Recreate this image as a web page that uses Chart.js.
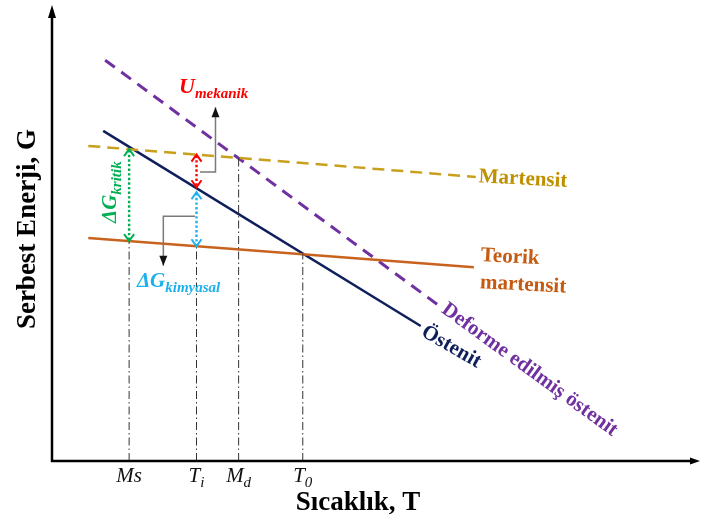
<!DOCTYPE html>
<html>
<head>
<meta charset="utf-8">
<title>Serbest Enerji - Sıcaklık</title>
<script src="https://cdn.jsdelivr.net/npm/chart.js@4/dist/chart.umd.min.js"></script>
<style>
  html, body { margin: 0; padding: 0; background: #ffffff; }
  #wrap { width: 702px; height: 523px; }
</style>
</head>
<body>
<div id="wrap"><canvas id="chart" width="702" height="523"></canvas></div>
<script>
// Free-energy curves (schematic units: temperature 0-100, energy 0-100)
const austenite = [{ x: 7.9, y: 72.4 }, { x: 56.9, y: 29.6 }];
const martensite = [{ x: 5.6, y: 69.1 }, { x: 65.4, y: 62.3 }];
const theoreticalMartensite = [{ x: 5.6, y: 48.9 }, { x: 65.1, y: 42.5 }];
const deformedAustenite = [{ x: 8.2, y: 87.9 }, { x: 59.6, y: 34.2 }];

// Characteristic temperatures on the T axis
const tempMain = ['Ms', 'T', 'M', 'T'];
const tempSub = ['', 'i', 'd', '0'];
const tempValues = [11.9, 22.3, 28.8, 38.7];

// Elbow leaders pointing from the arrows to their labels
const mechanicalLeader = [{ x: 22.84, y: 63.4 }, { x: 25.23, y: 63.4 }, { x: 25.23, y: 77.6 }];
const chemicalLeader = [{ x: 22.07, y: 53.7 }, { x: 17.18, y: 53.7 }, { x: 17.18, y: 42.8 }];

const C = {
  austenite: '#0f1f5c',
  martensite: '#c9a01c',
  theoretical: '#c8631e',
  deformed: '#7030a0',
  critical: '#00b050',
  chemical: '#1cb0ec',
  mechanical: '#ff0000',
  guide: '#333333'
};
const SERIF = '"Liberation Serif", "Times New Roman", serif';

function yOn(line, x) {
  const [a, b] = line;
  return a.y + (b.y - a.y) * (x - a.x) / (b.x - a.x);
}

// Vertical dash-dot guides from each characteristic temperature up to its curve
const guideTops = [
  yOn(theoreticalMartensite, tempValues[0]),
  yOn(theoreticalMartensite, tempValues[1]),
  yOn(martensite, tempValues[2]),
  yOn(austenite, tempValues[3])
];
const guideSets = tempValues.map((t, i) => ({
  data: [{ x: t, y: 0 }, { x: t, y: guideTops[i] }],
  borderColor: C.guide,
  borderWidth: 1,
  borderDash: [8, 3, 1.5, 3],
  showLine: true,
  pointRadius: 0
}));

function lineSet(data, color, width, dash) {
  return {
    data: data,
    borderColor: color,
    borderWidth: width,
    borderDash: dash || [],
    showLine: true,
    pointRadius: 0,
    borderCapStyle: 'butt'
  };
}

function chevron(ctx, x, y, dir, color) {
  // open V arrowhead; dir = -1 points up, +1 points down
  ctx.save();
  ctx.setLineDash([]);
  ctx.strokeStyle = color;
  ctx.lineWidth = 2;
  ctx.beginPath();
  ctx.moveTo(x - 5, y - dir * 7);
  ctx.lineTo(x, y);
  ctx.lineTo(x + 5, y - dir * 7);
  ctx.stroke();
  ctx.restore();
}

function dottedDouble(ctx, x, y1, y2, color) {
  ctx.save();
  ctx.strokeStyle = color;
  ctx.lineWidth = 2.4;
  ctx.setLineDash([2.4, 2.2]);
  ctx.beginPath();
  ctx.moveTo(x, y1 + 1);
  ctx.lineTo(x, y2 - 1);
  ctx.stroke();
  ctx.restore();
  chevron(ctx, x, y1, -1, color);
  chevron(ctx, x, y2, 1, color);
}

function subText(ctx, main, sub, x, y, mainSize, subSize, color, italic, align) {
  const style = (italic ? 'italic ' : '');
  ctx.save();
  ctx.fillStyle = color;
  ctx.textBaseline = 'alphabetic';
  ctx.textAlign = 'left';
  ctx.font = style + mainSize;
  const w1 = ctx.measureText(main).width;
  ctx.font = style + subSize;
  const w2 = sub ? ctx.measureText(sub).width : 0;
  let x0 = x;
  if (align === 'center') x0 = x - (w1 + w2) / 2;
  ctx.font = style + mainSize;
  ctx.fillText(main, x0, y);
  if (sub) {
    ctx.font = style + subSize;
    ctx.fillText(sub, x0 + w1, y + 5);
  }
  ctx.restore();
}

function rotatedText(ctx, text, x, y, deg, font, color) {
  ctx.save();
  ctx.translate(x, y);
  ctx.rotate(deg * Math.PI / 180);
  ctx.font = font;
  ctx.fillStyle = color;
  ctx.textAlign = 'center';
  ctx.textBaseline = 'middle';
  ctx.fillText(text, 0, 0);
  ctx.restore();
}

const diagramPlugin = {
  id: 'diagram',
  afterDatasetsDraw(chart) {
    const ctx = chart.ctx;
    const xs = chart.scales.x, ys = chart.scales.y;
    const px = v => xs.getPixelForValue(v);
    const py = v => ys.getPixelForValue(v);
    const x0 = px(0), y0 = py(0);

    // axes with arrowheads
    ctx.save();
    ctx.strokeStyle = '#000';
    ctx.fillStyle = '#000';
    ctx.lineWidth = 2.5;
    ctx.beginPath();
    ctx.moveTo(x0, y0);
    ctx.lineTo(x0, py(100) + 8);
    ctx.moveTo(x0 - 1.25, y0);
    ctx.lineTo(px(100) - 6, y0);
    ctx.stroke();
    ctx.beginPath();
    ctx.moveTo(x0, py(100));
    ctx.lineTo(x0 - 4, py(100) + 13);
    ctx.lineTo(x0 + 4, py(100) + 13);
    ctx.closePath();
    ctx.fill();
    ctx.beginPath();
    ctx.moveTo(px(100), y0);
    ctx.lineTo(px(100) - 10, y0 - 3.5);
    ctx.lineTo(px(100) - 10, y0 + 3.5);
    ctx.closePath();
    ctx.fill();
    ctx.restore();

    // energy differences between the curves
    const tMs = tempValues[0], tTi = tempValues[1];
    dottedDouble(ctx, px(tMs), py(yOn(martensite, tMs)), py(yOn(theoreticalMartensite, tMs)), C.critical);
    dottedDouble(ctx, px(tTi), py(yOn(martensite, tTi)), py(yOn(austenite, tTi)) - 1, C.mechanical);
    dottedDouble(ctx, px(tTi), py(yOn(austenite, tTi)) + 4, py(yOn(theoreticalMartensite, tTi)), C.chemical);

    // leaders
    [mechanicalLeader, chemicalLeader].forEach(pts => {
      ctx.save();
      ctx.strokeStyle = '#7a7a7a';
      ctx.lineWidth = 1.5;
      ctx.beginPath();
      pts.forEach((p, i) => i ? ctx.lineTo(px(p.x), py(p.y)) : ctx.moveTo(px(p.x), py(p.y)));
      ctx.stroke();
      const a = pts[pts.length - 1], b = pts[pts.length - 2];
      const dir = Math.sign(py(a.y) - py(b.y));
      const tx = px(a.x), ty = py(a.y);
      ctx.fillStyle = '#111';
      ctx.beginPath();
      ctx.moveTo(tx, ty);
      ctx.lineTo(tx - 4, ty - dir * 10);
      ctx.lineTo(tx + 4, ty - dir * 10);
      ctx.closePath();
      ctx.fill();
      ctx.restore();
    });

    // labels of the energy differences
    subText(ctx, 'U', 'mekanik', px(19.6), py(80.7), 'bold 22px ' + SERIF, 'bold 15px ' + SERIF, C.mechanical, true);
    subText(ctx, 'ΔG', 'kimyasal', px(13.1), py(38.2), 'bold 21px ' + SERIF, 'bold 15px ' + SERIF, C.chemical, true);
    ctx.save();
    ctx.translate(px(9.88), py(52.2));
    ctx.rotate(-Math.PI / 2);
    subText(ctx, 'ΔG', 'kritik', 0, 0, 'bold 21px ' + SERIF, 'bold 15px ' + SERIF, C.critical, true);
    ctx.restore();

    // curve names
    const f21 = 'bold 21px ' + SERIF;
    rotatedText(ctx, 'Martensit', px(72.7), py(61.8), 3, f21, '#bf9000');
    rotatedText(ctx, 'Teorik', px(70.7), py(44.7), 3, f21, '#c55a11');
    rotatedText(ctx, 'martensit', px(72.7), py(38.6), 3, f21, '#c55a11');
    rotatedText(ctx, 'Östenit', px(61.6), py(25.0), 30, f21, '#0f1f5c');
    rotatedText(ctx, 'Deforme edilmiş östenit', px(73.7), py(20.0), 36, f21, '#7030a0');

    // temperature tick labels
    tempValues.forEach((t, i) => {
      subText(ctx, tempMain[i], tempSub[i], px(t), y0 + 21, '21px ' + SERIF, '15px ' + SERIF, '#111', true, 'center');
    });

    // axis titles
    ctx.save();
    ctx.fillStyle = '#000';
    ctx.font = 'bold 27px ' + SERIF;
    ctx.textAlign = 'center';
    ctx.textBaseline = 'middle';
    ctx.fillText('Sıcaklık, T', 358, 503);
    ctx.translate(28, 229);
    ctx.rotate(-Math.PI / 2);
    ctx.fillText('Serbest Enerji, G', 0, 0);
    ctx.restore();
  }
};

new Chart(document.getElementById('chart'), {
  type: 'scatter',
  data: {
    datasets: [
      ...guideSets,
      lineSet(theoreticalMartensite, C.theoretical, 2.5),
      lineSet(martensite, C.martensite, 2.5, [12, 7]),
      lineSet(austenite, C.austenite, 2.5),
      lineSet(deformedAustenite, C.deformed, 3, [12, 8])
    ]
  },
  options: {
    responsive: false,
    animation: false,
    layout: { padding: { left: 52, right: 2, top: 5, bottom: 62 } },
    plugins: { legend: { display: false }, tooltip: { enabled: false } },
    scales: {
      x: { type: 'linear', min: 0, max: 100, display: false },
      y: { type: 'linear', min: 0, max: 100, display: false }
    }
  },
  plugins: [diagramPlugin]
});
</script>
</body>
</html>
